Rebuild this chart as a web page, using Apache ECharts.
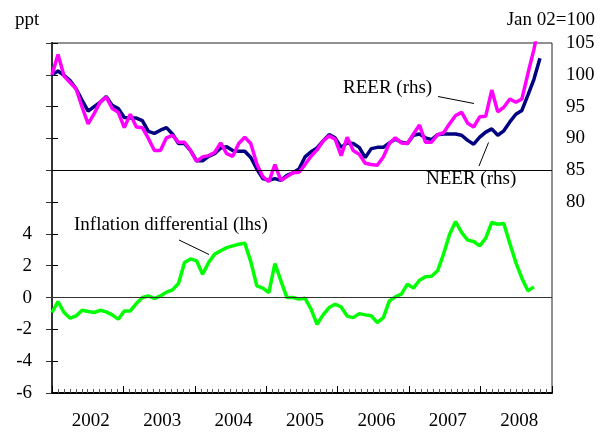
<!DOCTYPE html>
<html>
<head>
<meta charset="utf-8">
<script src="https://cdn.jsdelivr.net/npm/echarts@6/dist/echarts.min.js"></script>
<style>
	html, body { margin:0; padding:0; background:#fff; }
	#chart { width:604px; height:433px; }
</style>
</head>
<body>
<div id="chart"></div>
<script>
	// monthly data starting Jan 2002
	var years = [2002, 2003, 2004, 2005, 2006, 2007, 2008];
	var monthNames = ['Jan','Feb','Mar','Apr','May','Jun','Jul','Aug','Sep','Oct','Nov','Dec'];

	// NEER, Jan 02=100 (rhs)
	var neer = [
		100.0, 100.6, 99.9, 99.1, 97.8, 96.0, 94.3, 95.0, 95.7, 96.6,
		95.2, 94.7, 93.3, 93.2, 93.2, 92.8, 91.1, 90.8, 91.3, 91.7,
		90.7, 89.2, 89.2, 88.1, 86.5, 86.5, 87.2, 87.6, 88.5, 88.7,
		88.1, 88.0, 88.0, 87.0, 85.2, 83.7, 83.4, 83.7, 83.4, 84.2,
		84.6, 85.2, 87.1, 87.9, 88.5, 89.6, 90.6, 90.1, 88.6, 89.3,
		89.2, 88.6, 87.0, 88.4, 88.6, 88.6, 89.3, 89.9, 89.4, 89.2,
		90.5, 90.7, 90.1, 89.8, 90.6, 90.7, 90.7, 90.7, 90.5, 89.7,
		89.1, 90.2, 91.0, 91.5, 90.5, 91.2, 92.6, 93.8, 94.4, 96.8,
		99.3, 102.6
	];

	// REER, Jan 02=100 (rhs)
	var reer = [
		100.0, 103.2, 99.8, 98.8, 97.8, 94.9, 92.3, 93.9, 95.7, 96.5,
		94.7, 94.1, 91.7, 93.8, 91.8, 91.7, 90.0, 88.1, 88.1, 90.1,
		90.5, 89.4, 89.4, 88.1, 86.4, 87.1, 87.3, 87.8, 89.3, 87.6,
		87.2, 89.2, 90.2, 89.2, 86.0, 84.0, 83.2, 85.9, 83.4, 84.0,
		84.6, 84.7, 85.9, 87.2, 88.2, 89.6, 90.4, 89.9, 87.3, 90.2,
		88.1, 87.5, 86.1, 85.9, 85.8, 87.1, 89.2, 90.1, 89.3, 89.2,
		90.7, 92.1, 89.4, 89.4, 90.6, 90.9, 92.3, 93.6, 94.1, 92.4,
		91.8, 93.4, 93.5, 97.6, 94.2, 94.9, 96.2, 95.7, 96.2, 100.2,
		104.0, 108.5
	];

	// inflation differential, ppt (lhs)
	var inflDiff = [
		-0.94, -0.25, -0.94, -1.30, -1.15, -0.80, -0.88, -0.94, -0.80, -0.90,
		-1.09, -1.36, -0.84, -0.84, -0.38, 0.00, 0.10, -0.06, 0.10, 0.34,
		0.48, 0.88, 2.20, 2.43, 2.31, 1.47, 2.20, 2.73, 2.94, 3.14,
		3.25, 3.35, 3.42, 2.26, 0.73, 0.59, 0.31, 2.14, 1.05, 0.00,
		0.00, -0.10, -0.04, -0.73, -1.68, -1.09, -0.63, -0.42, -0.59, -1.17,
		-1.26, -1.01, -1.09, -1.15, -1.57, -1.26, -0.21, 0.04, 0.21, 0.84,
		0.59, 1.09, 1.30, 1.34, 1.68, 2.73, 3.98, 4.78, 4.09, 3.61,
		3.52, 3.25, 3.73, 4.72, 4.61, 4.65, 3.40, 2.20, 1.22, 0.42,
		0.67
	];

	var leftTicks = [-6, -4, -2, 0, 2, 4];
	var rightTicks = [80, 85, 90, 95, 100, 105];

	var months = [];
	for(var y=0; y<years.length; y++){
		for(var m=0; m<12; m++){
			months.push(monthNames[m] + ' ' + years[y]);
		}
	}

	var font = 'Liberation Serif';
	var chart = echarts.init(document.getElementById('chart'));

	var noLine = {
		silent:true,
		symbol:['none','none'],
		label:{show:false},
		animation:false
	};

	chart.setOption({
		animation:false,
		grid:{
			left:52, right:52, top:43, bottom:40,
			show:true, borderColor:'#222', borderWidth:1
		},
		xAxis:[{
			// data axis
			type:'category',
			data:months,
			boundaryGap:false,
			show:false
		},{
			// monthly ticks and year labels
			type:'value',
			min:0, max:84, interval:1,
			position:'bottom',
			axisLine:{show:true, lineStyle:{color:'#000', width:2}},
			axisTick:{show:true, inside:true, length:4, lineStyle:{color:'#555', width:1}},
			splitLine:{show:false},
			axisLabel:{
				show:true,
				margin:19,
				padding:[0,0,0,6],
				fontFamily:font, fontSize:19, color:'#000',
				formatter:function(v){
					return v % 12 === 6 ? String(years[(v - 6) / 12]) : '';
				}
			}
		},{
			// year ticks
			type:'value',
			min:0, max:84, interval:12,
			position:'bottom',
			axisLine:{show:false},
			axisTick:{show:true, inside:true, length:7, lineStyle:{color:'#000', width:1}},
			splitLine:{show:false},
			axisLabel:{show:false}
		}],
		yAxis:[{
			type:'value',
			position:'left',
			min:-6, max:16, interval:2,
			axisLine:{show:true, lineStyle:{color:'#000', width:2}},
			axisTick:{show:true, inside:true, length:6, lineStyle:{color:'#000'}},
			splitLine:{show:false},
			axisLabel:{
				margin:20,
				fontFamily:font, fontSize:19, color:'#000',
				formatter:function(v){
					return leftTicks.indexOf(v) > -1 ? String(v) : '';
				}
			}
		},{
			type:'value',
			position:'right',
			min:50, max:105, interval:5,
			axisLine:{show:true, lineStyle:{color:'#333', width:2}},
			axisTick:{show:true, inside:true, length:6, lineStyle:{color:'#333'}},
			splitLine:{show:false},
			axisLabel:{
				margin:14,
				fontFamily:font, fontSize:19, color:'#000',
				formatter:function(v){
					return rightTicks.indexOf(v) > -1 ? String(v) : '';
				}
			}
		}],
		series:[{
			name:'NEER (rhs)',
			type:'line',
			xAxisIndex:0, yAxisIndex:1,
			data:neer,
			symbol:'none',
			clip:true,
			lineStyle:{color:'#000080', width:3.5},
			markLine:Object.assign({
				lineStyle:{color:'#000', width:1, type:'solid'},
				data:[{yAxis:85}]
			}, noLine),
			z:3
		},{
			name:'REER (rhs)',
			type:'line',
			xAxisIndex:0, yAxisIndex:1,
			data:reer,
			symbol:'none',
			clip:true,
			lineStyle:{color:'#ff00ff', width:3.5},
			z:4
		},{
			name:'Inflation differential (lhs)',
			type:'line',
			xAxisIndex:0, yAxisIndex:0,
			data:inflDiff,
			symbol:'none',
			lineStyle:{color:'#00ff00', width:3.5},
			markLine:Object.assign({
				lineStyle:{color:'#333', width:1, type:'solid'},
				data:[{yAxis:0}]
			}, noLine),
			z:3
		}],
		graphic:[
			{type:'text', left:15, top:11, style:{text:'ppt', fontFamily:font, fontSize:19, fill:'#000'}},
			{type:'text', right:9, top:11, style:{text:'Jan 02=100', fontFamily:font, fontSize:19, fill:'#000'}},
			{type:'text', x:343, y:88, style:{text:'REER (rhs)', fontFamily:font, fontSize:19, fill:'#000', verticalAlign:'middle'}},
			{type:'text', x:426, y:179, style:{text:'NEER (rhs)', fontFamily:font, fontSize:19, fill:'#000', verticalAlign:'middle'}},
			{type:'text', x:74, y:225, style:{text:'Inflation differential (lhs)', fontFamily:font, fontSize:19, fill:'#000', verticalAlign:'middle'}},
			{type:'line', shape:{x1:438, y1:96.5, x2:474, y2:103.5}, style:{stroke:'#000', lineWidth:1}},
			{type:'line', shape:{x1:488.5, y1:142.5, x2:479, y2:166}, style:{stroke:'#000', lineWidth:1}},
			{type:'line', shape:{x1:179, y1:240, x2:209, y2:254.5}, style:{stroke:'#000', lineWidth:1}}
		]
	});
</script>
</body>
</html>
